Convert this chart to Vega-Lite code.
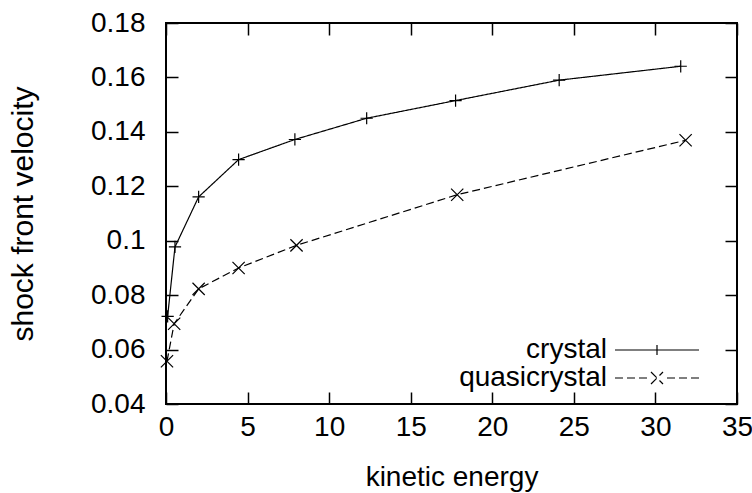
{
  "$schema": "https://vega.github.io/schema/vega-lite/v6.json",
  "width": 571,
  "height": 381,
  "autosize": {"type": "none"},
  "padding": {"left": 166, "top": 23, "right": 15, "bottom": 89},
  "background": "white",
  "config": {
    "view": {"stroke": "black", "strokeWidth": 2},
    "font": "Liberation Sans",
    "axis": {
      "domain": false, "grid": false, "labelFlush": false,
      "tickColor": "black", "tickWidth": 1.5, "tickSize": -12,
      "labelColor": "black", "titleColor": "black",
      "labelFont": "Liberation Sans", "titleFont": "Liberation Sans",
      "labelFontSize": 28, "titleFontSize": 28, "titleFontWeight": "normal"
    }
  },
  "data": {
    "values": [
      {"series": "crystal", "energy": 0.1, "velocity": 0.0722},
      {"series": "crystal", "energy": 0.55, "velocity": 0.0977},
      {"series": "crystal", "energy": 2.0, "velocity": 0.1161},
      {"series": "crystal", "energy": 4.45, "velocity": 0.1298},
      {"series": "crystal", "energy": 7.9, "velocity": 0.1372},
      {"series": "crystal", "energy": 12.3, "velocity": 0.145},
      {"series": "crystal", "energy": 17.75, "velocity": 0.1515},
      {"series": "crystal", "energy": 24.1, "velocity": 0.159},
      {"series": "crystal", "energy": 31.55, "velocity": 0.1641},
      {"series": "quasicrystal", "energy": 0.06, "velocity": 0.0557},
      {"series": "quasicrystal", "energy": 0.5, "velocity": 0.0695},
      {"series": "quasicrystal", "energy": 2.0, "velocity": 0.0823},
      {"series": "quasicrystal", "energy": 4.45, "velocity": 0.09},
      {"series": "quasicrystal", "energy": 8.0, "velocity": 0.0983},
      {"series": "quasicrystal", "energy": 17.85, "velocity": 0.1169},
      {"series": "quasicrystal", "energy": 31.85, "velocity": 0.1369}
    ]
  },
  "layer": [
    {
      "mark": {"type": "line", "color": "black", "strokeWidth": 1.2},
      "encoding": {
        "x": {"field": "energy", "type": "quantitative",
              "scale": {"domain": [0, 35], "nice": false, "zero": false},
              "axis": {"orient": "bottom", "title": "kinetic energy", "values": [0, 5, 10, 15, 20, 25, 30, 35], "labelPadding": 21, "titlePadding": 22}},
        "y": {"field": "velocity", "type": "quantitative",
              "scale": {"domain": [0.04, 0.18], "nice": false, "zero": false},
              "axis": {"orient": "left", "title": "shock front velocity", "titleFontSize": 30, "values": [0.04, 0.06, 0.08, 0.1, 0.12, 0.14, 0.16, 0.18], "format": ".2~f", "labelPadding": 33, "titlePadding": 52}},
        "strokeDash": {"field": "series", "type": "nominal",
              "scale": {"domain": ["crystal", "quasicrystal"], "range": [[1, 0], [8, 4]]},
              "legend": {
                "title": null, "orient": "none", "legendX": 441, "legendY": 313,
                "labelFont": "Liberation Sans", "labelFontSize": 28, "labelColor": "black",
                "labelAlign": "right", "labelOffset": -28,
                "symbolSize": 144, "symbolStrokeWidth": 1.2, "symbolStrokeColor": "black",
                "rowPadding": 0,
                "encode": {
                  "symbols": {
                    "update": {
                      "shape": {"signal": "datum.value === 'crystal' ? 'M-1,0L13,0M6,-0.83L6,0.83' : 'M-1,0L0.333,0M1,0L2.333,0M3,0L4.333,0M5,-1L7,1M5,1L7,-1M7.667,0L9,0M9.667,0L11,0M11.667,0L13,0'"},
                      "strokeDash": {"value": [1, 0]},
                      "fill": {"value": "transparent"},
                      "stroke": {"value": "black"},
                      "strokeWidth": {"value": 1.2}
                    }
                  }
                }
              }}
      }
    },
    {
      "transform": [{"filter": "datum.series === 'crystal'"}],
      "mark": {"type": "point", "filled": false, "stroke": "black", "strokeWidth": 1.2, "size": 150, "opacity": 1, "shape": "M-1,0L1,0M0,-1L0,1"},
      "encoding": {
        "x": {"field": "energy", "type": "quantitative",
              "axis": {"orient": "top", "labels": false, "title": null, "values": [0, 5, 10, 15, 20, 25, 30, 35]}},
        "y": {"field": "velocity", "type": "quantitative",
              "axis": {"orient": "right", "labels": false, "title": null, "values": [0.04, 0.06, 0.08, 0.1, 0.12, 0.14, 0.16, 0.18]}}
      }
    },
    {
      "transform": [{"filter": "datum.series === 'quasicrystal'"}],
      "mark": {"type": "point", "filled": false, "stroke": "black", "strokeWidth": 1.2, "size": 150, "opacity": 1, "shape": "M-1,-1L1,1M-1,1L1,-1"},
      "encoding": {
        "x": {"field": "energy", "type": "quantitative", "axis": null},
        "y": {"field": "velocity", "type": "quantitative", "axis": null}
      }
    }
  ],
  "resolve": {"axis": {"x": "independent", "y": "independent"}}
}
